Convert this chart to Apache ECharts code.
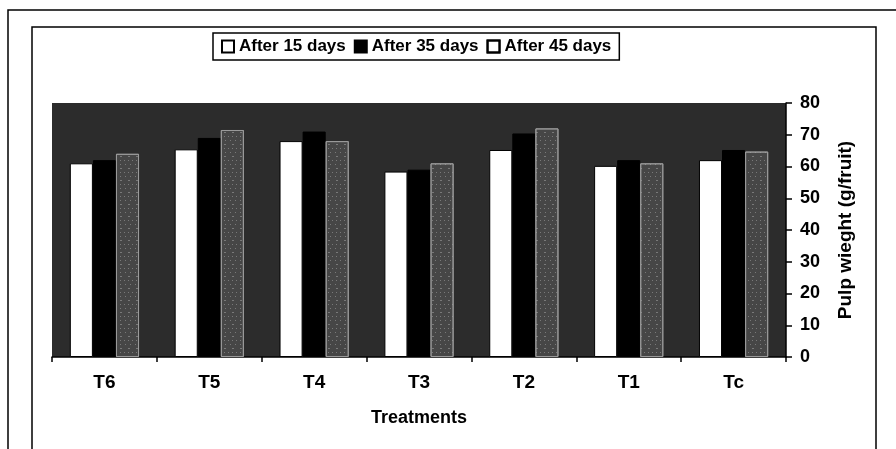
<!DOCTYPE html>
<html>
<head>
<meta charset="utf-8">
<script src="https://cdn.jsdelivr.net/npm/echarts@6/dist/echarts.min.js"></script>
<style>
html,body{margin:0;padding:0;background:#fff;}
#chart{width:896px;height:449px;}
</style>
</head>
<body>
<div id="chart"></div>
<script>
const categories = ['T6', 'T5', 'T4', 'T3', 'T2', 'T1', 'Tc'];
const after15 = [61, 65.4, 68, 58.4, 65.2, 60.2, 62];
const after35 = [62, 69, 71, 59, 70.4, 62, 65.2];
const after45 = [64, 71.5, 68, 61, 72, 61, 64.7];
const yTicks = [0, 10, 20, 30, 40, 50, 60, 70, 80];
const seriesNames = ['After 15 days', 'After 35 days', 'After 45 days'];

const FONT = '"Liberation Sans", Arial, sans-serif';
const chart = echarts.init(document.getElementById('chart'), null, {renderer: 'canvas'});

const option = {
  animation: false,
  backgroundColor: '#fff',
  textStyle: {fontFamily: FONT},
  graphic: [
    {type: 'rect', shape: {x: 8, y: 10, width: 900, height: 470}, style: {fill: 'none', stroke: '#000', lineWidth: 1.5}, silent: true, z: -1},
    {type: 'rect', shape: {x: 32, y: 27, width: 844, height: 450}, style: {fill: 'none', stroke: '#000', lineWidth: 1.5}, silent: true, z: -1}
  ],
  legend: {
    top: 33,
    left: 213,
    padding: [5, 8, 5, 8],
    itemGap: 8,
    itemWidth: 12,
    itemHeight: 12,
    borderColor: '#000',
    borderWidth: 1.5,
    textStyle: {fontFamily: FONT, fontWeight: 'bold', fontSize: 17, color: '#000'},
    data: [
      {name: seriesNames[0], icon: 'rect', itemStyle: {color: '#fff', borderColor: '#000', borderWidth: 2}},
      {name: seriesNames[1], icon: 'rect', itemStyle: {color: '#000', borderColor: '#000', borderWidth: 2}},
      {name: seriesNames[2], icon: 'rect', itemStyle: {color: '#fff', borderColor: '#000', borderWidth: 2}}
    ]
  },
  grid: {
    left: 52, right: 110, top: 103, bottom: 92,
    show: true,
    backgroundColor: '#2c2c2c',
    borderWidth: 0
  },
  xAxis: {
    type: 'category',
    data: categories,
    axisLine: {lineStyle: {color: '#000', width: 1.5}},
    axisTick: {show: true, length: 5, lineStyle: {color: '#000', width: 1.5}},
    axisLabel: {fontFamily: FONT, fontWeight: 'bold', fontSize: 19, color: '#000', margin: 16},
    name: 'Treatments',
    nameLocation: 'middle',
    nameGap: 52,
    nameTextStyle: {fontFamily: FONT, fontWeight: 'bold', fontSize: 18, color: '#000'}
  },
  yAxis: {
    type: 'value',
    position: 'right',
    min: 0, max: 80, interval: 10,
    axisLine: {show: true, lineStyle: {color: '#000', width: 1.5}},
    axisTick: {show: true, length: 6, lineStyle: {color: '#000', width: 1.5}},
    splitLine: {show: false},
    axisLabel: {
      fontFamily: FONT, fontWeight: 'bold', fontSize: 18, color: '#000', margin: 14,
      formatter: function (v) { return yTicks.indexOf(v) >= 0 ? String(v) : ''; }
    },
    name: 'Pulp wieght (g/fruit)',
    nameLocation: 'middle',
    nameRotate: 90,
    nameGap: 50,
    nameTextStyle: {fontFamily: FONT, fontWeight: 'bold', fontSize: 19, color: '#000'}
  },
  series: [
    {
      name: seriesNames[0], type: 'bar', data: after15,
      barGap: '0%', barCategoryGap: '34%',
      itemStyle: {color: '#ffffff', borderColor: '#000', borderWidth: 1}
    },
    {
      name: seriesNames[1], type: 'bar', data: after35,
      itemStyle: {color: '#000000', borderColor: '#000', borderWidth: 1}
    },
    {
      name: seriesNames[2], type: 'bar', data: after45,
      itemStyle: {
        color: '#464646', borderColor: '#9a9a9a', borderWidth: 1,
        decal: {
          symbol: 'rect', symbolSize: 1, color: 'rgba(255,255,255,0.28)',
          dashArrayX: [[1, 4], [2, 6], [1, 3]], dashArrayY: [1, 3], rotation: 0
        }
      }
    }
  ]
};
chart.setOption(option);
</script>
</body>
</html>
